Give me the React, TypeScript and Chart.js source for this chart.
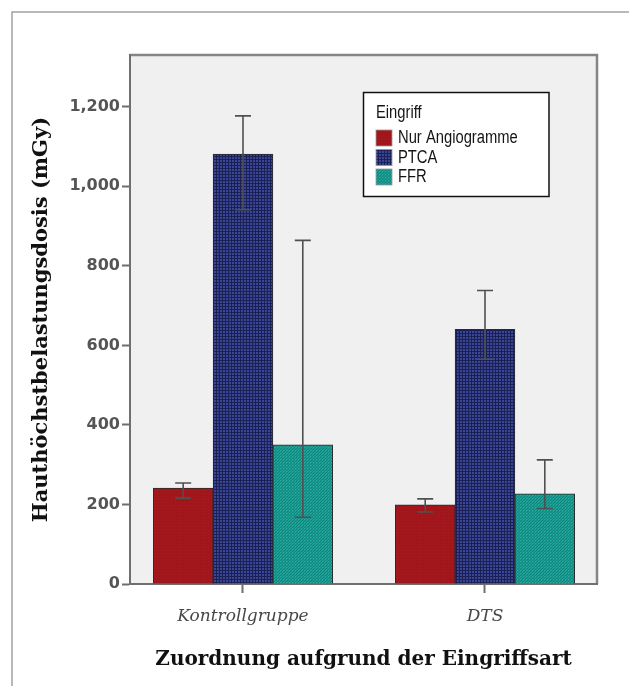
import React, { useEffect, useRef } from "react";
import { Chart, registerables } from "chart.js";

Chart.register(...registerables);

const categories = ["Kontrollgruppe", "DTS"];
const seriesNames = ["Nur Angiogramme", "PTCA", "FFR"];
const angioMean = [241, 199];
const angioLow = [216, 181];
const angioHigh = [254, 214];
const ptcaMean = [1081, 640];
const ptcaLow = [941, 565];
const ptcaHigh = [1177, 738];
const ffrMean = [350, 227];
const ffrLow = [168, 190];
const ffrHigh = [864, 312];
const yTicks = [0, 200, 400, 600, 800, 1000, 1200];
const yTitle = "Hauthöchstbelastungsdosis (mGy)";
const xTitle = "Zuordnung aufgrund der Eingriffsart";
const legendTitle = "Eingriff";

function makePattern(kind: string): CanvasPattern | string {
  const c = document.createElement("canvas");
  c.width = 3;
  c.height = 3;
  const g = c.getContext("2d");
  if (!g) return "#888";
  if (kind === "red") {
    g.fillStyle = "#a4181d";
    g.fillRect(0, 0, 3, 3);
    g.fillStyle = "#981419";
    g.fillRect(0, 0, 1, 1);
    g.fillRect(2, 2, 1, 1);
  } else if (kind === "blue") {
    g.fillStyle = "#3a4694";
    g.fillRect(0, 0, 3, 3);
    g.fillStyle = "#1b2156";
    g.fillRect(0, 0, 3, 1);
    g.fillRect(0, 0, 1, 3);
  } else {
    g.fillStyle = "#1a9c92";
    g.fillRect(0, 0, 3, 3);
    g.fillStyle = "#11857c";
    g.fillRect(0, 0, 1, 1);
    g.fillRect(2, 1, 1, 1);
    g.fillRect(1, 2, 1, 1);
    g.fillStyle = "#2aaea3";
    g.fillRect(1, 0, 1, 1);
  }
  const p = g.createPattern(c, "repeat");
  return p || "#888";
}

export default function App() {
  const ref = useRef<HTMLCanvasElement | null>(null);
  useEffect(() => {
    if (!ref.current) return;
    const fills = [makePattern("red"), makePattern("blue"), makePattern("teal")];
    const means = [angioMean, ptcaMean, ffrMean];
    const lows = [angioLow, ptcaLow, ffrLow];
    const highs = [angioHigh, ptcaHigh, ffrHigh];

    const bgPlugin = {
      id: "bgPlugin",
      beforeDraw(chart: any) {
        const { ctx, chartArea: a } = chart;
        ctx.save();
        ctx.strokeStyle = "#a3a3a3";
        ctx.lineWidth = 1.5;
        ctx.beginPath();
        ctx.moveTo(12, 686);
        ctx.lineTo(12, 12);
        ctx.lineTo(629, 12);
        ctx.stroke();
        ctx.fillStyle = "#f0f0f0";
        ctx.fillRect(a.left, a.top, a.right - a.left, a.bottom - a.top);
        ctx.strokeStyle = "#858585";
        ctx.lineWidth = 2.5;
        ctx.beginPath();
        ctx.moveTo(a.left, a.top);
        ctx.lineTo(a.right, a.top);
        ctx.lineTo(a.right, a.bottom);
        ctx.stroke();
        ctx.restore();
      },
    };

    const errPlugin = {
      id: "errPlugin",
      afterDatasetsDraw(chart: any) {
        const { ctx } = chart;
        const ys = chart.scales.y;
        ctx.save();
        ctx.strokeStyle = "#505050";
        ctx.lineWidth = 1.6;
        chart.data.datasets.forEach((ds: any, di: number) => {
          const meta = chart.getDatasetMeta(di);
          meta.data.forEach((bar: any, i: number) => {
            const x = bar.x;
            const y1 = ys.getPixelForValue(lows[di][i]);
            const y2 = ys.getPixelForValue(highs[di][i]);
            ctx.beginPath();
            ctx.moveTo(x, y1);
            ctx.lineTo(x, y2);
            ctx.moveTo(x - 8, y1);
            ctx.lineTo(x + 8, y1);
            ctx.moveTo(x - 8, y2);
            ctx.lineTo(x + 8, y2);
            ctx.stroke();
          });
        });
        ctx.restore();
      },
    };

    const condensedText = (ctx: any, text: string, x: number, y: number) => {
      ctx.save();
      ctx.translate(x, y);
      ctx.scale(0.82, 1);
      ctx.fillText(text, 0, 0);
      ctx.restore();
    };

    const legendPlugin = {
      id: "legendPlugin",
      afterDraw(chart: any) {
        const { ctx, chartArea: a } = chart;
        const bx = a.left + 233.5;
        const by = a.top + 37.5;
        ctx.save();
        ctx.fillStyle = "#ffffff";
        ctx.fillRect(bx, by, 185.5, 104);
        ctx.strokeStyle = "#111111";
        ctx.lineWidth = 1.5;
        ctx.strokeRect(bx, by, 185.5, 104);
        ctx.font = '18px "Liberation Sans", Arial, sans-serif';
        ctx.fillStyle = "#151515";
        ctx.textBaseline = "middle";
        ctx.textAlign = "left";
        condensedText(ctx, legendTitle, bx + 12.5, by + 20.5);
        seriesNames.forEach((name, i) => {
          const sy = by + 37.5 + i * 19.5;
          ctx.fillStyle = fills[i] as any;
          ctx.fillRect(bx + 12.5, sy, 16, 16);
          ctx.strokeStyle = "#9a9a9a";
          ctx.lineWidth = 0.8;
          ctx.strokeRect(bx + 12.5, sy, 16, 16);
          ctx.fillStyle = "#151515";
          condensedText(ctx, name, bx + 34.5, sy + 8.5);
        });
        ctx.restore();
      },
    };

    const chart = new Chart(ref.current, {
      type: "bar",
      data: {
        datasets: seriesNames.map((name, di) => ({
          label: name,
          data: categories.map((_, i) => ({ x: i, y: means[di][i] })),
          backgroundColor: fills[di] as any,
          borderColor: "#2b2b2b",
          borderWidth: 1,
          barThickness: 59.8,
        })),
      },
      options: {
        animation: false,
        responsive: false,
        events: [],
        layout: { padding: { top: 55, right: 32, left: 0, bottom: 0 } },
        plugins: {
          legend: { display: false },
          tooltip: { enabled: false },
        },
        scales: {
          x: {
            type: "linear",
            offset: false,
            min: -0.4669,
            max: 1.4628,
            afterFit: (s: any) => {
              s.height = 102;
            },
            afterBuildTicks: (s: any) => {
              s.ticks = categories.map((_, i) => ({ value: i }));
            },
            border: { display: true, color: "#6f6f6f", width: 2 },
            grid: {
              offset: false,
              drawOnChartArea: false,
              drawTicks: true,
              tickLength: 9,
              tickColor: "#6f6f6f",
              tickWidth: 2,
            },
            ticks: {
              padding: 13,
              color: "#474747",
              font: { family: '"DejaVu Serif", serif', style: "italic", size: 17 },
              callback: (v: any) => categories[Math.round(Number(v))] ?? "",
            },
            title: {
              display: true,
              text: xTitle,
              color: "#111111",
              font: { family: '"DejaVu Serif", serif', weight: "bold", size: 20 },
              padding: { top: 0, bottom: 14 },
            },
          },
          y: {
            type: "linear",
            min: 0,
            max: 1330,
            afterFit: (s: any) => {
              s.width = 130;
            },
            afterBuildTicks: (s: any) => {
              s.ticks = yTicks.map((v) => ({ value: v }));
            },
            border: { display: true, color: "#6f6f6f", width: 2 },
            grid: {
              drawOnChartArea: false,
              drawTicks: true,
              tickLength: 8,
              tickColor: "#6f6f6f",
              tickWidth: 2,
            },
            ticks: {
              padding: 2,
              color: "#555555",
              font: { family: '"DejaVu Sans", Verdana, sans-serif', weight: "bold", size: 16 },
              callback: (v: any) => Number(v).toLocaleString("en-US"),
            },
            title: {
              display: true,
              text: yTitle,
              color: "#111111",
              font: { family: '"DejaVu Serif", serif', weight: "bold", size: 21 },
              padding: { top: 29, bottom: 0 },
            },
          },
        },
      },
      plugins: [bgPlugin, errPlugin, legendPlugin],
    });
    return () => chart.destroy();
  }, []);

  return (
    <div style={{ position: "absolute", left: 0, top: 0, width: 629, height: 686, background: "#ffffff" }}>
      <canvas ref={ref} width={629} height={686} style={{ width: 629, height: 686, display: "block" }} />
    </div>
  );
}
